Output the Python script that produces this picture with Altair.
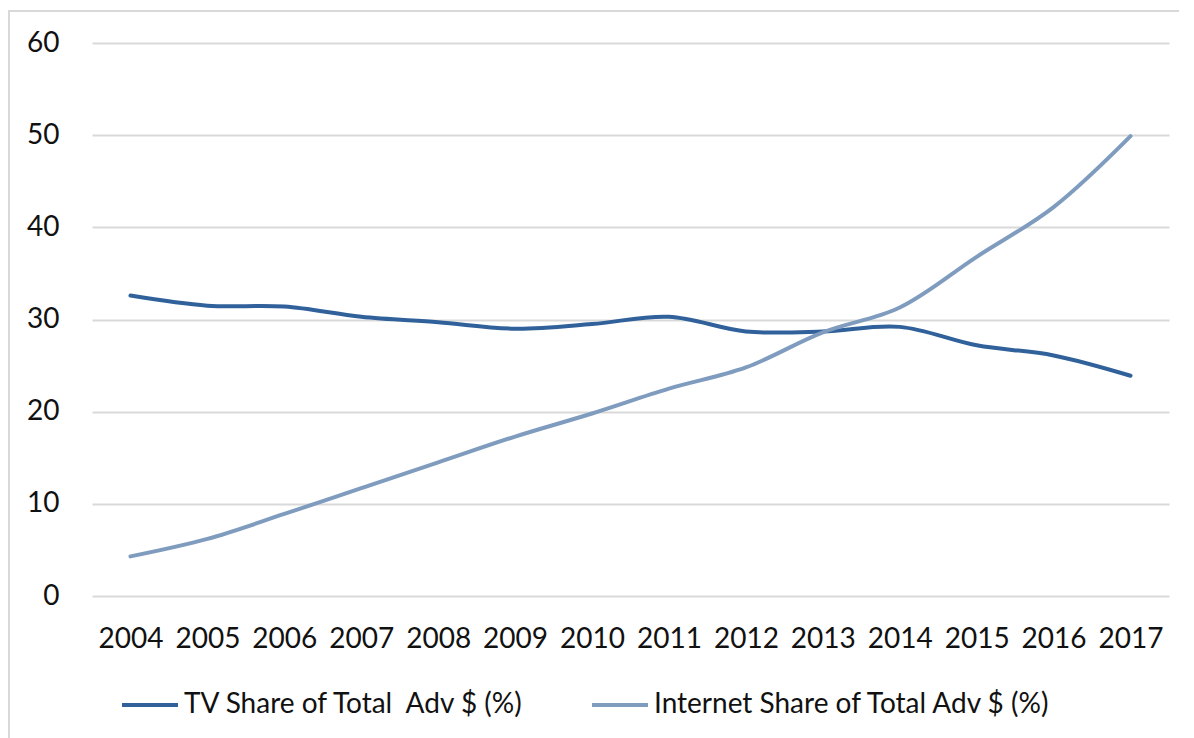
import altair as alt
import pandas as pd

years = [str(y) for y in range(2004, 2018)]
tv_share = [32.6, 31.5, 31.4, 30.3, 29.7, 29.0, 29.5, 30.3, 28.7, 28.7, 29.2, 27.2, 26.1, 23.9]
internet_share = [4.3, 6.2, 8.9, 11.7, 14.5, 17.3, 19.8, 22.5, 24.8, 28.6, 31.3, 36.8, 42.2, 49.9]
series_names = ["TV Share of Total \u00a0Adv $ (%)", "Internet Share of Total Adv $ (%)"]
series_colors = ["#30619a", "#7f9cbf"]

rows = []
for name, vals in zip(series_names, [tv_share, internet_share]):
    for yr, v in zip(years, vals):
        rows.append({"Year": yr, "Value": v, "Series": name})
df = pd.DataFrame(rows)

FONT = "Lato"

frame = alt.Chart(pd.DataFrame({"a": [0]})).mark_rect(
    fillOpacity=0, stroke="#d9d9d9", strokeWidth=2
).encode(
    x=alt.value(-83), x2=alt.value(1300), y=alt.value(-32), y2=alt.value(900)
)

lines = alt.Chart(df).mark_line(
    strokeWidth=4, interpolate="catmull-rom", strokeCap="round"
).encode(
    x=alt.X("Year:N", sort=years,
            scale=alt.Scale(type="point", padding=0.5),
            axis=alt.Axis(title=None, labelAngle=0, ticks=False, domain=False,
                          labelPadding=29, labelFontSize=28, labelFont=FONT,
                          labelColor="#111111", grid=False)),
    y=alt.Y("Value:Q",
            scale=alt.Scale(domain=[0, 60], nice=False),
            axis=alt.Axis(title=None, values=[0, 10, 20, 30, 40, 50, 60],
                          ticks=False, domain=False, labelPadding=33,
                          labelFontSize=28, labelFont=FONT, labelColor="#111111",
                          grid=True, gridColor="#d9d9d9", gridWidth=2)),
    color=alt.Color("Series:N", sort=series_names,
                    scale=alt.Scale(domain=series_names, range=series_colors),
                    legend=alt.Legend(title=None, orient="none", legendX=28, legendY=632,
                                      direction="horizontal", symbolType="stroke",
                                      symbolSize=3136, symbolStrokeWidth=4,
                                      labelFontSize=28, labelFont=FONT,
                                      labelColor="#111111", labelOffset=4,
                                      columnPadding=59, labelLimit=600)),
    order=alt.Order("Series:N", sort="descending"),
)

chart = alt.layer(frame, lines).properties(
    width=1077, height=553,
    autosize=alt.AutoSizeParams(type="none"),
    padding={"left": 84, "top": 35, "right": 10, "bottom": 142},
    background="white",
).configure_view(stroke=None)

chart.save("out.html", embed_options={"renderer": "svg", "actions": False})
